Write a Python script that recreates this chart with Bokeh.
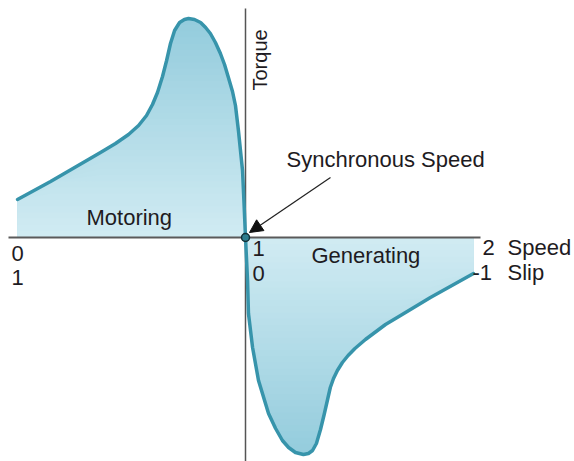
import numpy as np
from bokeh.plotting import figure
from bokeh.models import Range1d, Arrow, NormalHead
from bokeh.core.properties import value
from bokeh.embed import file_html
from bokeh.resources import INLINE

# ---- data (speed in per-unit of synchronous speed, torque in arbitrary units)
motor_speed = [0.000, 0.145, 0.364, 0.430, 0.487, 0.531, 0.566, 0.592, 0.614, 0.636,
               0.654, 0.671, 0.689, 0.711, 0.732, 0.750, 0.776, 0.803, 0.825, 0.846,
               0.868, 0.890, 0.908, 0.925, 0.943, 0.956, 0.969, 0.987, 0.993, 1.000]
motor_torque = [0.38, 0.56, 0.85, 0.94, 1.03, 1.12, 1.22, 1.33, 1.45, 1.61,
                1.77, 1.94, 2.07, 2.15, 2.18, 2.19, 2.18, 2.15, 2.10, 2.04,
                1.95, 1.84, 1.73, 1.60, 1.46, 1.32, 1.07, 0.67, 0.37, 0.00]
gen_speed = [1.000, 1.009, 1.013, 1.031, 1.057, 1.101, 1.132, 1.162, 1.189, 1.219,
             1.254, 1.276, 1.294, 1.311, 1.329, 1.345, 1.360, 1.372, 1.386, 1.403,
             1.425, 1.450, 1.480, 1.526, 1.614, 1.680, 1.811, 2.000]
gen_torque = [0.00, -0.43, -0.76, -1.10, -1.43, -1.76, -1.91, -2.03, -2.10, -2.15,
              -2.17, -2.16, -2.13, -2.06, -1.92, -1.77, -1.62, -1.50, -1.41, -1.33,
              -1.25, -1.18, -1.11, -1.02, -0.87, -0.78, -0.60, -0.36]
speed_ticks = ["0", "1", "2"]
slip_ticks = ["1", "0", "-1"]

# ---- pixel <-> data helpers (pixels of the reference picture)
X0, XS = 17.0, 228.0
Y0, YS = 237.0, 100.0
def px2x(px):
    return (px - X0) / XS
def px2y(py):
    return (Y0 - py) / YS

W, H = 574, 461
p = figure(width=W, height=H, output_backend="svg", toolbar_location=None,
           x_range=Range1d(px2x(0), px2x(W)), y_range=Range1d(px2y(H), px2y(0)),
           x_axis_location=None, y_axis_location=None, min_border=0)
p.grid.visible = False
p.outline_line_color = None
p.background_fill_color = "white"

# ---- gradient fills
light = np.array([210, 236, 243])
dark = np.array([146, 203, 220])
ymax = 2.25
N = 36
levels = np.linspace(ymax, 0, N, endpoint=False)
ms = np.array(motor_speed); mt = np.array(motor_torque)
gs = np.array(gen_speed); gt = np.array(gen_torque)
for lev in levels:
    f = lev / ymax
    c = light + (dark - light) * f
    col = "#%02x%02x%02x" % tuple(int(round(v)) for v in c)
    p.varea(x=ms, y1=0, y2=np.minimum(mt, lev), fill_color=col, fill_alpha=1.0)
    p.varea(x=gs, y1=0, y2=np.maximum(gt, -lev), fill_color=col, fill_alpha=1.0)

# ---- axes lines
p.line([px2x(8), px2x(480)], [0, 0], line_color="#5a5a5a", line_width=2)
p.line([1, 1], [px2y(8), px2y(470)], line_color="#555555", line_width=1.5)

# ---- curve
curve_col = "#3794ab"
p.line(ms, mt, line_color=curve_col, line_width=3.5, line_join="round", line_cap="round")
p.line(gs, gt, line_color=curve_col, line_width=3.5, line_join="round", line_cap="round")

p.scatter([1], [0], size=8, fill_color="#2d7d8e", line_color="#123037", line_width=1.5)

# ---- arrow
p.add_layout(Arrow(end=NormalHead(size=13, fill_color="#111111", line_color="#111111"),
                   x_start=px2x(330), y_start=px2y(177), x_end=px2x(249), y_end=px2y(232),
                   line_color="#222222", line_width=1.2))

# ---- texts
font = value("Liberation Sans")
tcol = "#1e1b22"
def txt(px, py, s, angle=0, fs="22px"):
    p.text(x=[px2x(px)], y=[px2y(py)], text=[s], text_font=font, text_font_size=fs,
           text_color=tcol, text_align="left", text_baseline="alphabetic", angle=angle)

DY = 8  # baseline correction
txt(286, 167 - DY, "Synchronous Speed")
txt(86, 225 - DY, "Motoring")
txt(311, 263 - DY, "Generating")
txt(11, 261 - DY, speed_ticks[0])
txt(11, 285 - DY, slip_ticks[0])
txt(252, 256 - DY, speed_ticks[1])
txt(252, 281 - DY, slip_ticks[1])
txt(482, 255 - DY, speed_ticks[2])
txt(472, 280 - DY, slip_ticks[2])
txt(507, 255 - DY, "Speed")
txt(507, 280 - DY, "Slip")
txt(267 - DY, 90, "Torque", angle=np.pi / 2, fs="20px")

open("out.html", "w").write(file_html(p, INLINE))
